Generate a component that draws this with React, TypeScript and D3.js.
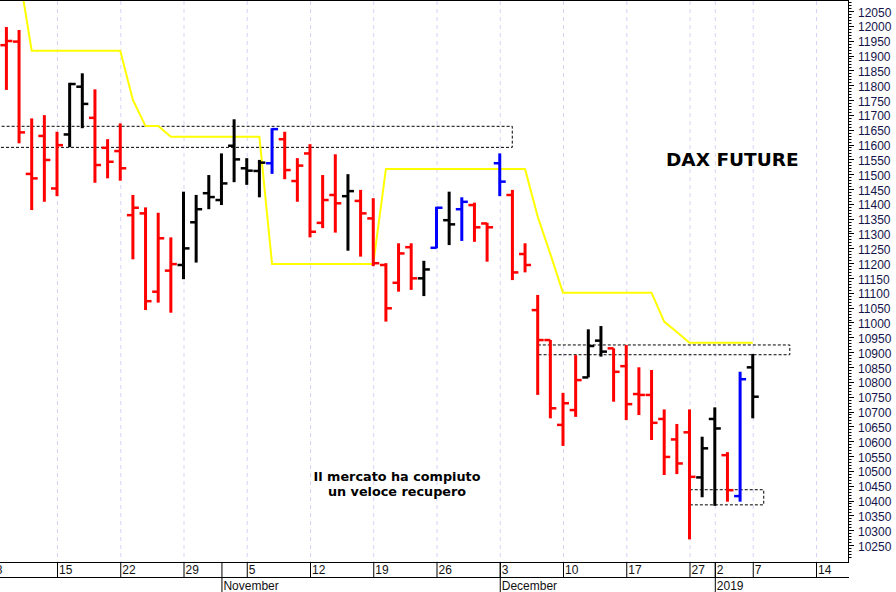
import React from "react";
import * as d3 from "d3";

// ---------- data (DAX future daily bars, Oct 2018 - Jan 2019) ----------
// trading-day index of the first visible bar (0 = 8 Oct 2018)
const firstBar = 1;
const highs = [11996, 11986, 11688, 11699, 11643, 11808, 11840, 11786, 11618, 11671,
  11430, 11388, 11370, 11287, 11441, 11430, 11497, 11570, 11685, 11554,
  11548, 11655, 11643, 11554, 11601, 11497, 11567, 11500, 11447, 11419,
  11200, 11267, 11267, 11208, 11390, 11441, 11422, 11404, 11336, 11570,
  11447, 11267, 11093, 10941, 10763, 10890, 10977, 10988, 10913, 10924,
  10849, 10840, 10707, 10658, 10707, 10615, 10714, 10563, 10834, 10894];
const lows = [11784, 11604, 11379, 11407, 11426, 11591, 11655, 11471, 11486, 11478,
  11213, 11042, 11067, 11033, 11146, 11202, 11382, 11396, 11473, 11464,
  11422, 11501, 11483, 11407, 11287, 11318, 11303, 11242, 11222, 11190,
  11003, 11104, 11110, 11089, 11250, 11261, 11275, 11272, 11205, 11426,
  11143, 11169, 10756, 10677, 10584, 10682, 10815, 10885, 10733, 10671,
  10688, 10604, 10486, 10489, 10269, 10411, 10382, 10396, 10396, 10677];
const opens = [11935, 11947, 11501, 11629, 11452, 11634, 11795, 11690, 11589, 11578,
  11362, 11368, 11104, 11175, 11194, 11338, 11436, 11413, 11596, 11520,
  11511, 11537, 11618, 11477, 11570, 11336, 11430, 11426, 11410, 11351,
  11194, 11134, 11254, 11149, 11252, 11345, 11382, 11396, 11334, 11537,
  11430, 11231, 11042, 10941, 10655, 10705, 10815, 10939, 10913, 10853,
  10759, 10756, 10675, 10606, 10630, 10478, 10675, 10553, 10415, 10849];
const closes = [11949, 11641, 11486, 11548, 11598, 11804, 11737, 11531, 11542, 11520,
  11387, 11072, 11284, 11197, 11250, 11382, 11423, 11469, 11550, 11512,
  11539, 11652, 11514, 11529, 11306, 11413, 11402, 11443, 11368, 11200,
  11048, 11233, 11149, 11179, 11387, 11331, 11407, 11321, 11321, 11475,
  11169, 11194, 10941, 10711, 10728, 10806, 10921, 10902, 10834, 10725,
  10756, 10662, 10547, 10525, 10480, 10576, 10643, 10435, 10809, 10750];
// r = red bar, k = black bar, b = blue bar
const barTypes = [
  "r", "r", "r", "r", "r", "k", "k", "r", "r", "r",
  "r", "r", "r", "r", "k", "k", "k", "k", "k", "k",
  "k", "b", "r", "r", "r", "r", "r", "k", "r", "r",
  "r", "r", "r", "k", "b", "k", "b", "r", "r", "b",
  "r", "r", "r", "r", "r", "r", "k", "k", "r", "r",
  "r", "r", "r", "r", "r", "k", "k", "r", "b", "k"];

// yellow trailing stop line, starting at trading-day index 2
const stopStart = 2;
const stopValues = [12178,
  11916, 11916, 11916, 11916, 11916, 11916, 11916, 11916,
  11750, 11662, 11662, 11626,
  11626, 11626, 11626, 11626, 11626, 11626, 11626,
  11197, 11197, 11197, 11197, 11197, 11197, 11197, 11197, 11197,
  11517, 11517, 11517, 11517, 11517, 11517, 11517, 11517, 11517, 11517, 11517, 11517,
  11357, 11231, 11100,
  11100, 11100, 11100, 11100, 11100, 11100, 11100,
  11003, 10968, 10932,
  10932, 10932, 10932, 10932, 10932];

// dashed zones: [startIndex, endIndex, top price, bottom price]
const zoneStart = [-1, 42.97, 54.98];
const zoneEnd = [40.95, 62.89, 60.83];
const zoneTop = [11663, 10926, 10438];
const zoneBottom = [11592, 10893, 10387];

// x-axis
const dayTickIndex = [0, 5, 10, 15, 20, 25, 30, 35, 40, 45, 50, 55, 57, 60, 65];
const dayTickLabels = ["8", "15", "22", "29", "5", "12", "19", "26", "3", "10", "17", "27", "2", "7", "14"];
const monthIndex = [18, 40, 57];
const monthLabels = ["November", "December", "2019"];

// y-axis
const yMin = 10250;
const yMax = 12050;
const yLabelStep = 50;
const yMinorStep = 10;
const yRulerMin = 10210;
const yRulerMax = 12090;

const title = "DAX FUTURE";
const noteLines = ["Il mercato ha compiuto", "un veloce recupero"];

const colorOf: Record<string, string> = { r: "#ff0000", k: "#000000", b: "#0000ff" };

export default function App() {
  const W = 896, H = 592;
  const plotRight = 848;
  const plotBottom = 562;
  const x = d3.scaleLinear().domain([5, 65]).range([57, 816]);
  const y = d3.scaleLinear().domain([yMin, yMax]).range([545, 11]);

  const bars = highs.map((h, k) => ({
    i: firstBar + k, h, l: lows[k], o: opens[k], c: closes[k], t: barTypes[k],
  }));

  const stopLine = d3.line<number>()
    .x((_, k) => x(stopStart + k))
    .y((v) => y(v))(stopValues) || "";

  const labelTicks = d3.range(yMin, yMax + 1, yLabelStep);
  const minorTicks = d3.range(yRulerMin, yRulerMax + 1, yMinorStep);

  const font = "'Liberation Sans', Arial, sans-serif";
  const boldFont = "'DejaVu Sans', Verdana, sans-serif";

  return (
    <div style={{ position: "absolute", left: 0, top: 0, width: W, height: H, background: "#fff" }}>
      <style>{`body{margin:0}`}</style>
      <svg width={W} height={H} style={{ display: "block" }}>
        <defs>
          <clipPath id="plot">
            <rect x={0} y={1} width={plotRight} height={plotBottom - 1} />
          </clipPath>
        </defs>
        <rect x={0} y={0} width={W} height={H} fill="#fff" />

        {/* vertical grid */}
        {dayTickIndex.map((d, k) => (
          <line key={"g" + k} x1={x(d) + 0.5} x2={x(d) + 0.5} y1={1} y2={plotBottom}
            stroke="#d4d4f4" strokeWidth={1} strokeDasharray="4,4" />
        ))}

        <g clipPath="url(#plot)">
          {/* dashed zones */}
          {zoneStart.map((s, k) => (
            <rect key={"z" + k} x={x(s) + 0.5} y={y(zoneTop[k]) + 0.5}
              width={x(zoneEnd[k]) - x(s)} height={y(zoneBottom[k]) - y(zoneTop[k])}
              fill="none" stroke="#000" strokeWidth={1} strokeDasharray="3,2" />
          ))}

          {/* stop line */}
          <path d={stopLine} fill="none" stroke="#ffff00" strokeWidth={2} strokeLinejoin="round" />

          {/* OHLC bars */}
          {bars.map((b) => {
            const cx = x(b.i);
            const col = colorOf[b.t];
            return (
              <g key={"b" + b.i} fill={col}>
                <rect x={cx - 1.5} y={y(b.h)} width={3} height={Math.max(1, y(b.l) - y(b.h))} />
                <rect x={cx - 6} y={y(b.o) - 1.2} width={6} height={2.5} />
                <rect x={cx} y={y(b.c) - 1.2} width={6} height={2.5} />
              </g>
            );
          })}
        </g>

        {/* frame */}
        <line x1={0} x2={plotRight} y1={0.5} y2={0.5} stroke="#000" strokeWidth={1} />
        <line x1={plotRight + 0.5} x2={plotRight + 0.5} y1={0} y2={plotBottom} stroke="#000" strokeWidth={1} />

        {/* right axis */}
        {minorTicks.map((v) => (
          <line key={"m" + v} x1={plotRight} x2={plotRight + (v % 50 === 0 ? 6 : 3.5)}
            y1={Math.round(y(v)) + 0.5} y2={Math.round(y(v)) + 0.5} stroke="#000" strokeWidth={1} />
        ))}
        {labelTicks.map((v) => (
          <text key={"l" + v} x={858} y={y(v) + 1.5} dominantBaseline="central"
            fontFamily={font} fontSize={12} fill="#14144a">{v}</text>
        ))}

        {/* bottom axis */}
        <line x1={0} x2={plotRight + 1} y1={plotBottom + 0.5} y2={plotBottom + 0.5} stroke="#000" />
        <line x1={0} x2={plotRight + 1} y1={577.5} y2={577.5} stroke="#000" />
        {dayTickIndex.map((d, k) => (
          <g key={"t" + k}>
            <line x1={x(d) + 0.5} x2={x(d) + 0.5} y1={plotBottom} y2={577} stroke="#000" />
            <text x={x(d) + 2} y={574} fontFamily={font} fontSize={12} fill="#111">{dayTickLabels[k]}</text>
          </g>
        ))}
        {monthIndex.map((d, k) => (
          <g key={"mo" + k}>
            <line x1={x(d) + 0.5} x2={x(d) + 0.5} y1={plotBottom} y2={H} stroke="#000" />
            <text x={x(d) + 2} y={590} fontFamily={font} fontSize={12} fill="#111">{monthLabels[k]}</text>
          </g>
        ))}

        {/* annotations */}
        <text x={666} y={166} fontFamily={boldFont} fontWeight="bold" fontSize={18.5} fill="#000">{title}</text>
        {noteLines.map((t, k) => (
          <text key={"n" + k} x={397} y={481 + k * 15} textAnchor="middle"
            fontFamily={boldFont} fontWeight="bold" fontSize={12.8} fill="#000">{t}</text>
        ))}
      </svg>
    </div>
  );
}
